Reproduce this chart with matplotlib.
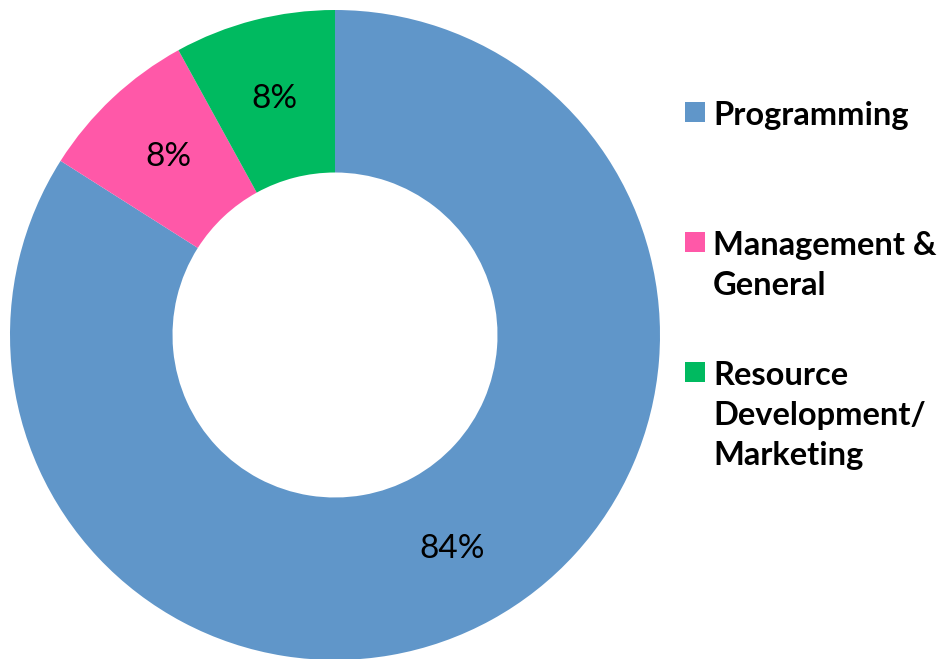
import matplotlib
matplotlib.use('Agg')
import matplotlib.pyplot as plt
from matplotlib.patches import Rectangle

# 데이터
labels = ['Programming', 'Management &\nGeneral', 'Resource\nDevelopment/\nMarketing']
shares = [84, 8, 8]
colors = ['#6096C9', '#FF58A8', '#00BA60']

plt.rcParams['font.family'] = ['Lato', 'DejaVu Sans']

W, H = 943, 659
fig = plt.figure(figsize=(W / 100, H / 100), dpi=100)

# 도넛 위치 (픽셀 -> 비율)
cx, cy, r = 335, 335, 325
ax = fig.add_axes([(cx - r) / W, (H - cy - r) / H, 2 * r / W, 2 * r / H])
wedges, texts, autotexts = ax.pie(
    shares, colors=colors, startangle=90, counterclock=False, radius=1,
    wedgeprops=dict(width=0.5, linewidth=0),
    autopct='%d%%', pctdistance=0.75, textprops=dict(fontsize=24, color='black'))
ax.set_xlim(-1, 1)
ax.set_ylim(-1, 1)
ax.set_aspect('equal')
ax.axis('off')

# 범례 (직접 그림) - 첫 줄 baseline 기준
first_base = [125, 255, 385]
line_gap = 40
for lab, col, yb in zip(labels, colors, first_base):
    fig.patches.append(Rectangle((685 / W, (H - yb + 3) / H), 20 / W, 20 / H,
                                 transform=fig.transFigure, facecolor=col, edgecolor='none'))
    for i, line in enumerate(lab.split('\n')):
        fig.text(713 / W, (H - yb - i * line_gap) / H, line, fontsize=23.5,
                 fontweight='bold', va='baseline', ha='left')

fig.savefig('out.png', dpi=100)
